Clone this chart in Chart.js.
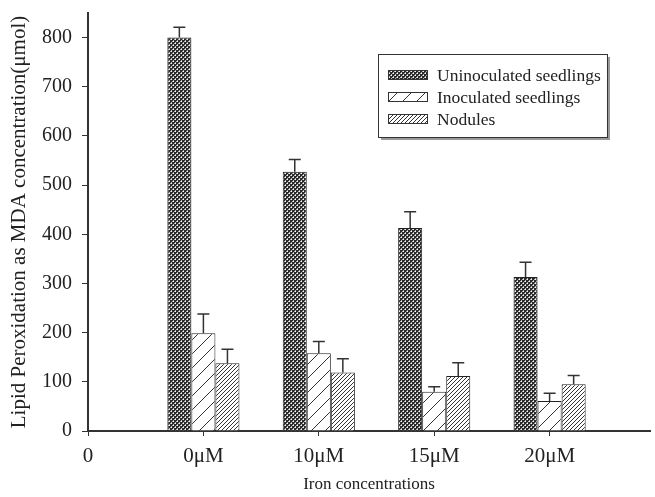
<!DOCTYPE html>
<html>
<head>
<meta charset="utf-8">
<script src="https://cdn.jsdelivr.net/npm/chart.js@4/dist/chart.umd.min.js"></script>
<style>
html,body{margin:0;padding:0;background:#fff;}
#wrap{width:655px;height:497px;}
</style>
</head>
<body>
<div id="wrap"><canvas id="c" width="655" height="497"></canvas></div>
<script>
// ---- data ----
const tickLabels = ['0', '0\u03bcM', '10\u03bcM', '15\u03bcM', '20\u03bcM'];
const positions = [1, 2, 3, 4];
const seriesNames = ['Uninoculated seedlings', 'Inoculated seedlings', 'Nodules'];
const uninoculated = [800, 527, 413, 313];
const uninoculatedErr = [21, 25, 33, 30];
const inoculated = [199, 158, 80, 61];
const inoculatedErr = [39, 24, 10, 16];
const nodules = [138, 119, 112, 95];
const nodulesErr = [28, 28, 27, 18];

const FONT = '"Liberation Serif", "DejaVu Serif", serif';

function dotPattern() {
  const c = document.createElement('canvas'); c.width = 4; c.height = 4;
  const g = c.getContext('2d');
  g.fillStyle = '#2a2a2a'; g.fillRect(0, 0, 4, 4);
  g.fillStyle = '#b0b0b0';
  g.fillRect(0, 1, 1, 1); g.fillRect(1, 0, 1, 1); g.fillRect(2, 3, 1, 1); g.fillRect(3, 2, 1, 1);
  g.fillStyle = '#f8f8f8';
  g.fillRect(1, 1, 1, 1); g.fillRect(3, 3, 1, 1);
  return g.createPattern(c, 'repeat');
}
function diagPattern(size, lw, col) {
  const c = document.createElement('canvas'); c.width = size; c.height = size;
  const g = c.getContext('2d');
  g.fillStyle = '#fff'; g.fillRect(0, 0, size, size);
  g.strokeStyle = col; g.lineWidth = lw;
  g.beginPath();
  g.moveTo(-1, size + 1); g.lineTo(size + 1, -1);
  g.moveTo(-1, 1); g.lineTo(1, -1);
  g.moveTo(size - 1, size + 1); g.lineTo(size + 1, size - 1);
  g.stroke();
  return g.createPattern(c, 'repeat');
}
const fills = [dotPattern(), diagPattern(14, 1, '#333'), diagPattern(4, 1, '#333')];

function pts(vals) { return vals.map((v, i) => ({ x: positions[i], y: v })); }
const errs = [uninoculatedErr, inoculatedErr, nodulesErr];

const errorBars = {
  id: 'errorBars',
  afterDatasetsDraw(chart) {
    const ctx = chart.ctx, ys = chart.scales.y;
    ctx.save();
    ctx.strokeStyle = '#333'; ctx.lineWidth = 1.5;
    chart.data.datasets.forEach((ds, di) => {
      const meta = chart.getDatasetMeta(di);
      meta.data.forEach((el, i) => {
        const top = ys.getPixelForValue(ds.data[i].y + errs[di][i]);
        ctx.beginPath();
        ctx.moveTo(el.x, el.y); ctx.lineTo(el.x, top);
        ctx.moveTo(el.x - 6, top); ctx.lineTo(el.x + 6, top);
        ctx.stroke();
      });
    });
    ctx.restore();
  }
};

const legendBox = {
  id: 'legendBox',
  afterDraw(chart) {
    const ctx = chart.ctx;
    const bx = 378, by = 54, bw = 229, bh = 83;
    ctx.save();
    ctx.fillStyle = '#9a9a9a';
    ctx.fillRect(bx + 3, by + 3, bw, bh);
    ctx.fillStyle = '#fff';
    ctx.fillRect(bx, by, bw, bh);
    ctx.strokeStyle = '#333'; ctx.lineWidth = 1;
    ctx.strokeRect(bx + 0.5, by + 0.5, bw, bh);
    const rows = [75, 97, 119];
    ctx.font = '17.5px ' + FONT;
    ctx.textBaseline = 'middle';
    chart.data.datasets.forEach((ds, i) => {
      const cy = rows[i];
      ctx.fillStyle = ds.backgroundColor;
      ctx.fillRect(388, cy - 5, 40, 10);
      ctx.strokeStyle = '#333';
      ctx.strokeRect(388.5, cy - 4.5, 39, 9);
      ctx.fillStyle = '#222';
      ctx.fillText(ds.label, 437, cy + 1);
    });
    ctx.restore();
  }
};

new Chart(document.getElementById('c'), {
  type: 'bar',
  data: {
    datasets: [
      { label: seriesNames[0], data: pts(uninoculated), backgroundColor: fills[0] },
      { label: seriesNames[1], data: pts(inoculated), backgroundColor: fills[1] },
      { label: seriesNames[2], data: pts(nodules), backgroundColor: fills[2] }
    ]
  },
  options: {
    responsive: false,
    animation: false,
    devicePixelRatio: 1,
    layout: { padding: { left: 0, right: 5, top: 13, bottom: 0 } },
    datasets: {
      bar: { borderColor: '#222', borderWidth: 1, categoryPercentage: 0.625, barPercentage: 1.0 }
    },
    plugins: { legend: { display: false }, tooltip: { enabled: false } },
    scales: {
      x: {
        type: 'linear', min: 0, max: 4.87, offset: false,
        afterFit(s) { s.height = 66; },
        border: { color: '#333', width: 2 },
        grid: { offset: false, drawOnChartArea: false, tickLength: 5, color: '#333', lineWidth: 1 },
        ticks: {
          stepSize: 1, includeBounds: false, autoSkip: false, maxRotation: 0, padding: 8,
          color: '#222', font: { family: FONT, size: 21 },
          callback: (v) => (Number.isInteger(v) && tickLabels[v] !== undefined) ? tickLabels[v] : ''
        },
        title: { display: true, text: 'Iron concentrations', color: '#222', font: { family: FONT, size: 17 }, padding: { top: 0, bottom: 2 } }
      },
      y: {
        min: 0, max: 850,
        afterFit(s) { s.width = 88; },
        border: { color: '#333', width: 2 },
        grid: { drawOnChartArea: false, tickLength: 6, color: '#333', lineWidth: 1 },
        ticks: {
          stepSize: 100, includeBounds: false, padding: 10, color: '#222',
          font: { family: FONT, size: 20, lineHeight: 0.3 }
        },
        title: { display: true, text: 'Lipid Peroxidation as MDA concentration(\u03bcmol)', color: '#222', font: { family: FONT, size: 21 }, padding: { top: 7, bottom: 2 } }
      }
    }
  },
  plugins: [errorBars, legendBox]
});
</script>
</body>
</html>
